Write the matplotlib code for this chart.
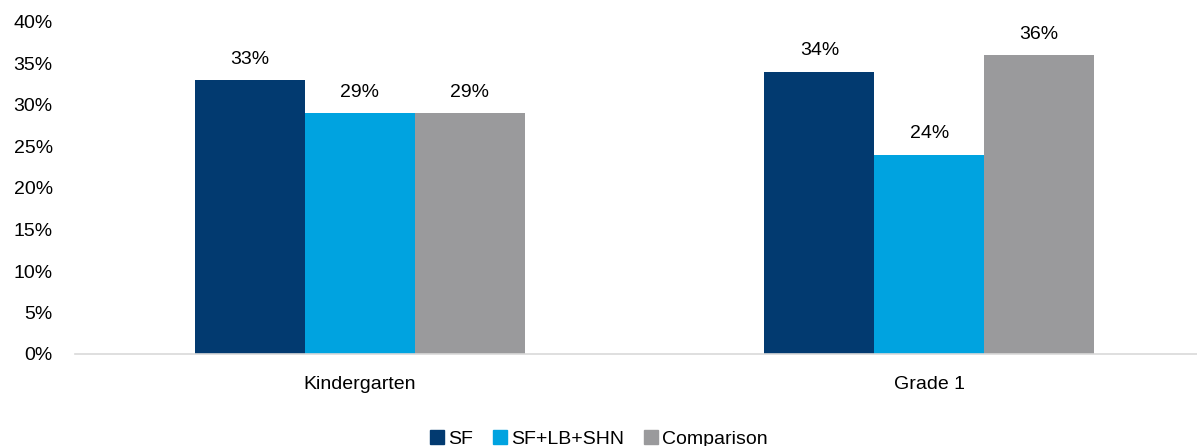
import numpy as np
import matplotlib.pyplot as plt
from matplotlib.lines import Line2D

categories = ['Kindergarten', 'Grade 1']
series = ['SF', 'SF+LB+SHN', 'Comparison']
sf = [33, 34]
sf_lb_shn = [29, 24]
comparison = [29, 36]
colors = ['#023A70', '#00A3E0', '#9A9A9C']

plt.rcParams['font.family'] = ['Liberation Sans', 'DejaVu Sans']

fig = plt.figure(figsize=(11.97, 4.46), dpi=100)
ax = fig.add_axes([75/1197, 92/446, 1122/1197, 332/446])

x = np.arange(len(categories))
width = 0.193
values = [sf, sf_lb_shn, comparison]
for i, (name, vals) in enumerate(zip(series, values)):
    pos = x + (i - 1) * width
    bars = ax.bar(pos, vals, width, color=colors[i], label=name)
    for b, v in zip(bars, vals):
        ax.annotate('%d%%' % v, (b.get_x() + b.get_width() / 2, v),
                    xytext=(0, 9), textcoords='offset points',
                    ha='center', va='bottom', fontsize=14, color='#000000')

ax.set_xlim(-0.5, 1.47)
ax.set_ylim(0, 40)
ax.set_yticks(range(0, 41, 5))
ax.set_yticklabels(['%d%%' % t for t in range(0, 41, 5)], fontsize=14)
ax.set_xticks(x)
ax.set_xticklabels(categories, fontsize=14)
ax.tick_params(axis='y', length=0, pad=16)
ax.tick_params(axis='x', length=0, pad=16)
for s in ['top', 'right', 'left']:
    ax.spines[s].set_visible(False)
ax.spines['bottom'].set_color('#D9D9D9')
ax.spines['bottom'].set_linewidth(1.2)

handles = [Line2D([0], [0], marker='s', linestyle='none', markersize=10,
                  markerfacecolor=c, markeredgecolor=c) for c in colors]
fig.legend(handles, series, loc='center', bbox_to_anchor=(0.5, 1 - 439/446),
           ncol=3, frameon=False, fontsize=14, handletextpad=0.15,
           columnspacing=1.0, handlelength=0.8)

fig.savefig('out.png', dpi=100)
